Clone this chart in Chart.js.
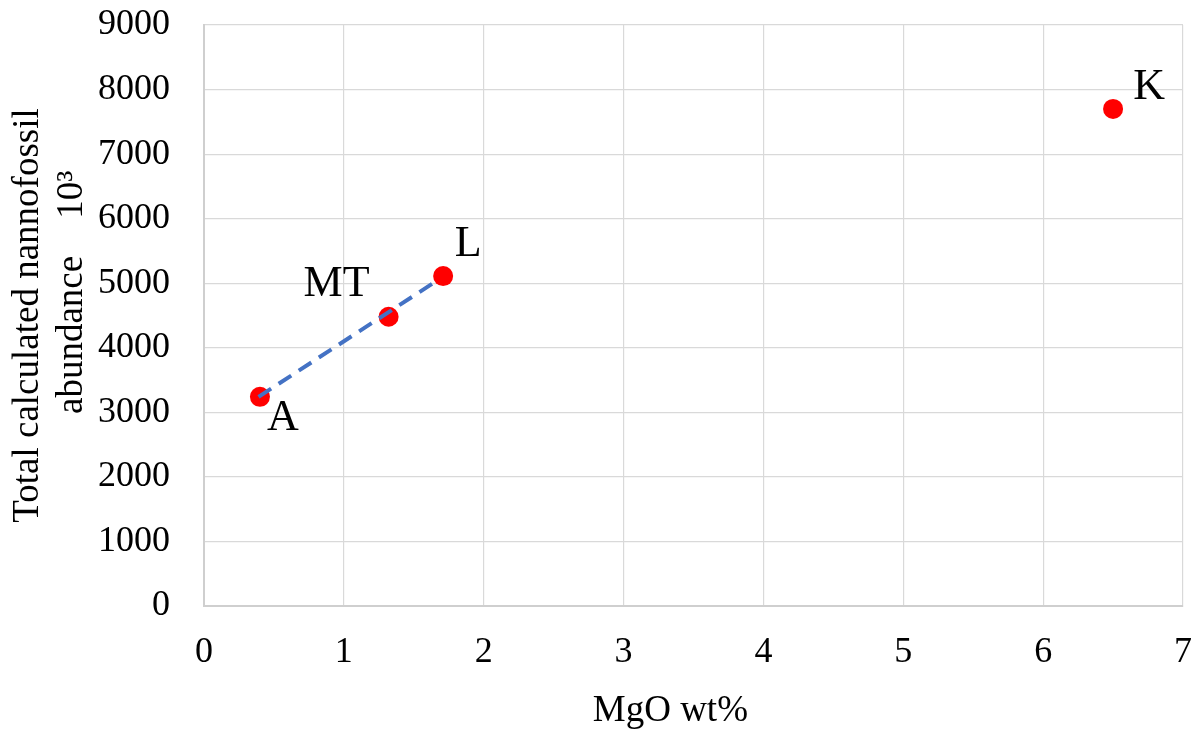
<!DOCTYPE html>
<html>
<head>
<meta charset="utf-8">
<script src="https://cdn.jsdelivr.net/npm/chart.js@4.4.0/dist/chart.umd.min.js"></script>
<style>
  html, body { margin: 0; padding: 0; background: #fff; }
  #wrap { width: 1202px; height: 736px; }
</style>
</head>
<body>
<div id="wrap"><canvas id="mgoChart"></canvas></div>
<script>
// samples
const sampleNames = ['A', 'MT', 'L', 'K'];
const mgoValues = [0.4, 1.32, 1.71, 6.5];
const abundanceValues = [3240, 4480, 5110, 7700];

// dashed trend through A, MT, L
const trendX = [0.39, 1.68];
const trendY = [3240, 5060];

const serif = "'Liberation Serif', 'Times New Roman', serif";
const nb = n => '\u00A0'.repeat(n);

// where each sample name sits relative to its dot
const labelOffsets = {
    A: [23, 22],
    MT: [-52, -32],
    L: [25, -32],
    K: [36, -21]
};

const pointLabels = {
    id: 'pointLabels',
    afterDatasetsDraw(chart) {
        const meta = chart.getDatasetMeta(1);
        const ctx = chart.ctx;
        ctx.save();
        ctx.font = '44px ' + serif;
        ctx.fillStyle = '#000';
        ctx.textAlign = 'center';
        ctx.textBaseline = 'middle';
        meta.data.forEach((pt, i) => {
            const name = sampleNames[i];
            const off = labelOffsets[name];
            ctx.fillText(name, pt.x + off[0], pt.y + off[1]);
        });
        ctx.restore();
    }
};

function renderChart() {
    const ctx = document.getElementById('mgoChart').getContext('2d');
    new Chart(ctx, {
        type: 'scatter',
        data: {
            datasets: [{
                type: 'line',
                data: trendX.map((x, i) => ({ x: x, y: trendY[i] })),
                borderColor: '#4472C4',
                borderWidth: 4,
                borderDash: [15, 9],
                pointRadius: 0,
                fill: false,
                order: 0
            }, {
                data: mgoValues.map((x, i) => ({ x: x, y: abundanceValues[i] })),
                backgroundColor: '#FF0000',
                borderWidth: 0,
                pointRadius: 10,
                order: 1
            }]
        },
        options: {
            responsive: true,
            maintainAspectRatio: false,
            animation: false,
            layout: { padding: { top: 25, right: 19, left: 0, bottom: 0 } },
            plugins: {
                legend: { display: false },
                tooltip: { enabled: false }
            },
            scales: {
                x: {
                    type: 'linear',
                    min: 0,
                    max: 7,
                    ticks: { stepSize: 1, padding: 25, color: '#000', font: { family: serif, size: 36 }, callback: v => v },
                    grid: { color: '#d9d9d9', drawTicks: false, lineWidth: 1.2 },
                    border: { color: '#cfcfcf', width: 2 },
                    title: { display: true, text: 'MgO wt%' + nb(5), color: '#000', font: { family: serif, size: 37, lineHeight: 1.2 }, padding: { top: 0, bottom: 3 } },
                    afterFit(scale) {
                        scale.height = 130;
                        scale.paddingLeft = 0;
                        scale.paddingRight = 0;
                    }
                },
                y: {
                    min: 0,
                    max: 9000,
                    ticks: { stepSize: 1000, padding: 34, color: '#000', font: { family: serif, size: 36 }, callback: v => v },
                    grid: { color: '#d9d9d9', drawTicks: false, lineWidth: 1.2 },
                    border: { color: '#cfcfcf', width: 2 },
                    title: {
                        display: true,
                        text: ['Total calculated nannofossil', nb(5) + 'abundance' + nb(4) + '10³'],
                        color: '#000',
                        font: { family: serif, size: 37, lineHeight: 1.2 },
                        padding: { top: 6, bottom: 0 }
                    },
                    afterFit(scale) {
                        scale.width = 204;
                        scale.paddingTop = 0;
                        scale.paddingBottom = 0;
                    }
                }
            }
        },
        plugins: [pointLabels]
    });
}

document.addEventListener('DOMContentLoaded', renderChart);
</script>
</body>
</html>
